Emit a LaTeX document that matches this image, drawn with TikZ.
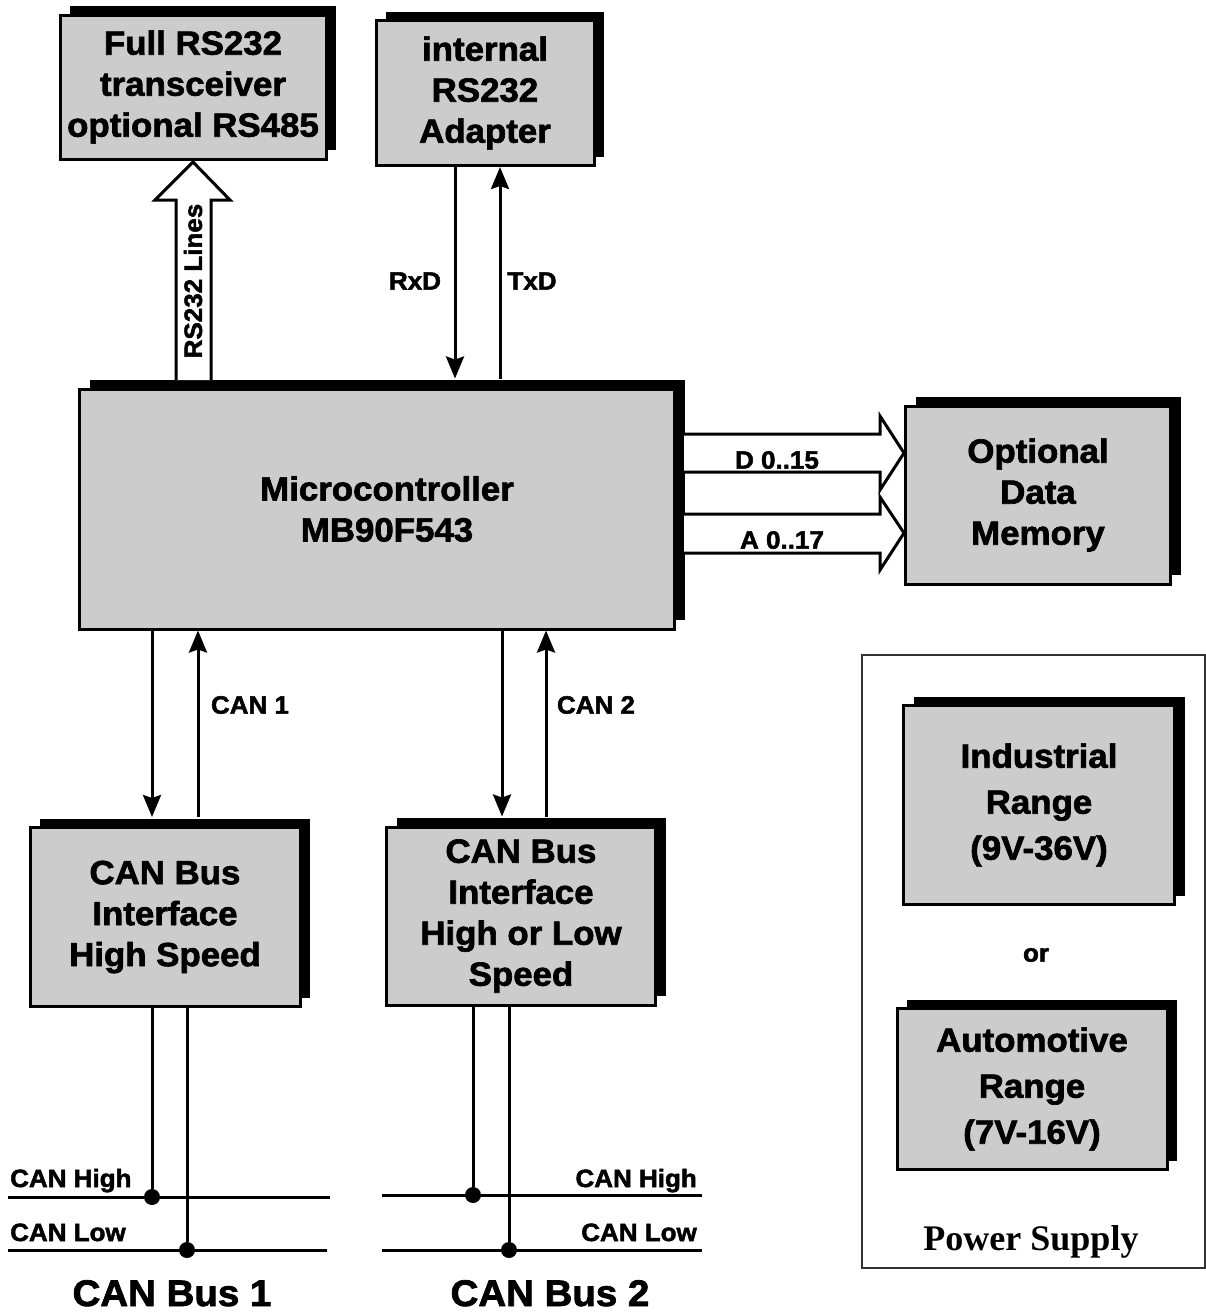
\documentclass[tikz,border=0pt]{standalone}
\usepackage{fontspec}
\setmainfont{Liberation Sans}[FakeStretch=1.04,BoldFeatures={FakeBold=2}]
\newfontfamily\psufont{Liberation Serif}
\usetikzlibrary{arrows.meta,calc,shadows}
\definecolor{boxgray}{RGB}{204,204,204}

\begin{document}
\begin{tikzpicture}[x=1pt,y=-1pt,>=Stealth,
  block/.style={draw,line width=3pt,fill=boxgray,align=center,inner sep=0pt,
    font=\fontsize{33.5}{41}\selectfont\bfseries,
    drop shadow={shadow xshift=10pt,shadow yshift=9pt,fill=black,opacity=1}},
  psublock/.style={block,font=\fontsize{33.5}{46}\selectfont\bfseries},
  sig/.style={line width=3pt,-{Stealth[length=22pt,width=18pt,inset=3pt]}},
  fat/.style={line width=3pt,fill=white,line join=miter},
  lbl/.style={font=\fontsize{25}{28}\selectfont\bfseries,inner sep=0pt},
  bus/.style={line width=3pt},
  tap/.style={circle,fill,inner sep=0pt,minimum size=16pt}]
  \useasboundingbox (0,0) rectangle (1206,1315);
  % power supply frame first, the two ranges sit inside it
  \node[draw=black!80,line width=1.2pt,minimum width=343pt,minimum height=613pt,
    inner sep=0pt] (psu) at (1033.5,961.5) {};
  % the blocks
  \node[block,minimum width=266pt,minimum height=144pt] (rsfull) at (193,87)
    {Full RS232\\transceiver\\optional RS485};
  \node[block,minimum width=218pt,minimum height=145pt] (rsint) at (485,93)
    {internal\\RS232\\Adapter};
  \node[block,minimum width=595pt,minimum height=240pt] (micro) at (377,509)
    {\hspace*{20pt}Microcontroller\\\hspace*{20pt}MB90F543};
  \node[block,minimum width=265pt,minimum height=178pt] (mem) at (1038,495)
    {Optional\\Data\\Memory};
  \node[block,minimum width=270pt,minimum height=179pt] (canif1) at (165,917)
    {CAN Bus\\Interface\\High Speed};
  \node[block,minimum width=269pt,minimum height=178pt] (canif2) at (521,916)
    {CAN Bus\\Interface\\High or Low\\Speed};
  \node[psublock,minimum width=271pt,minimum height=199pt] (indus) at (1039,805)
    {Industrial\\Range\\(9V-36V)};
  \node[psublock,minimum width=270pt,minimum height=161pt] (auto) at (1032,1089)
    {Automotive\\Range\\(7V-16V)};
  \node[lbl] (or) at (1036,955) {or};
  \node[font=\psufont\fontsize{36}{40}\selectfont\bfseries,inner sep=0pt] (psulbl)
    at (1031,1242) {Power Supply};
  % serial lines to the adapter
  \coordinate (rxd) at (455,0);
  \coordinate (txd) at (500,0);
  \draw[sig,shorten >=9pt] (rsint.south -| rxd) -- (micro.north -| rxd);
  \draw[sig,shorten <=9pt] (micro.north -| txd) -- (rsint.south -| txd);
  \node[lbl] (rxdlbl) at (415,281) {RxD};
  \node[lbl] (txdlbl) at (532,281) {TxD};
  % wide arrows: RS232 lines and the memory buses
  \draw[fat] (176,380) -- (176,200) -- (155,200) -- (193,162) -- (230,200)
    -- (211,200) -- (211,380);
  \node[lbl,rotate=90] (rslines) at (193,281) {RS232 Lines};
  \draw[fat] (684,434) -- (880,434) -- (880,416) -- (904,453) -- (880,490)
    -- (880,472) -- (684,472);
  \draw[fat] (684,514) -- (880,514) -- (880,497) -- (904,533) -- (880,570)
    -- (880,553) -- (684,553);
  \node[lbl] (dbus) at (777,460) {D 0..15};
  \node[lbl] (abus) at (782,540) {A 0..17};
  % CAN channels
  \coordinate (c1dn) at (152,0);
  \coordinate (c1up) at (198,0);
  \coordinate (c2dn) at (502,0);
  \coordinate (c2up) at (546,0);
  \draw[sig,shorten >=9pt] (micro.south -| c1dn) -- (canif1.north -| c1dn);
  \draw[sig,shorten <=9pt] (canif1.north -| c1up) -- (micro.south -| c1up);
  \draw[sig,shorten >=9pt] (micro.south -| c2dn) -- (canif2.north -| c2dn);
  \draw[sig,shorten <=9pt] (canif2.north -| c2up) -- (micro.south -| c2up);
  \node[lbl] (can1lbl) at (250,705) {CAN 1};
  \node[lbl] (can2lbl) at (596,705) {CAN 2};
  % bus 1
  \coordinate (hi1w) at (8,1197);
  \coordinate (hi1e) at (330,1197);
  \coordinate (lo1w) at (8,1250);
  \coordinate (lo1e) at (327,1250);
  \draw[bus] (hi1w) -- (hi1e);
  \draw[bus] (lo1w) -- (lo1e);
  \node[tap] (tap1h) at (152,1197) {};
  \node[tap] (tap1l) at (187,1250) {};
  \draw[bus] (canif1.south -| tap1h) -- (tap1h);
  \draw[bus] (canif1.south -| tap1l) -- (tap1l);
  \node[lbl,anchor=base west] (hi1lbl) at (10,1187) {CAN High};
  \node[lbl,anchor=base west] (lo1lbl) at (10,1241) {CAN Low};
  \node[font=\fontsize{37}{40}\selectfont\bfseries,anchor=base,inner sep=0pt]
    (bus1lbl) at (172,1306) {CAN Bus 1};
  % bus 2
  \coordinate (hi2w) at (382,1195);
  \coordinate (hi2e) at (702,1195);
  \coordinate (lo2w) at (382,1250);
  \coordinate (lo2e) at (702,1250);
  \draw[bus] (hi2w) -- (hi2e);
  \draw[bus] (lo2w) -- (lo2e);
  \node[tap] (tap2h) at (473,1195) {};
  \node[tap] (tap2l) at (509,1250) {};
  \draw[bus] (canif2.south -| tap2h) -- (tap2h);
  \draw[bus] (canif2.south -| tap2l) -- (tap2l);
  \node[lbl,anchor=base east] (hi2lbl) at (697,1187) {CAN High};
  \node[lbl,anchor=base east] (lo2lbl) at (697,1241) {CAN Low};
  \node[font=\fontsize{37}{40}\selectfont\bfseries,anchor=base,inner sep=0pt]
    (bus2lbl) at (550,1306) {CAN Bus 2};
\end{tikzpicture}
\end{document}
